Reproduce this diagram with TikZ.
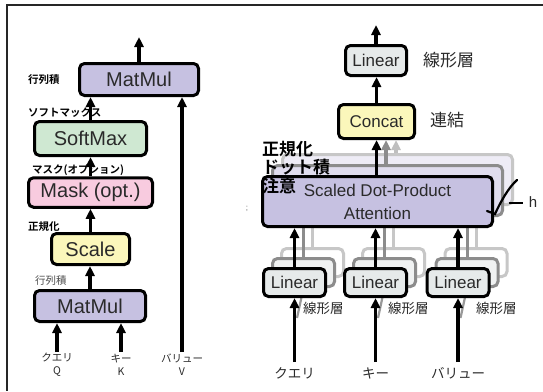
\documentclass[tikz,border=0pt]{standalone}
\usepackage{fontspec}
\setmainfont{Liberation Sans}
\newfontfamily\jp{Noto Sans CJK JP}[BoldFont={Noto Sans CJK JP Bold}]
\usetikzlibrary{arrows.meta}
\definecolor{cPurple}{HTML}{C6C1E1}
\definecolor{cGreen}{HTML}{CFE8D2}
\definecolor{cPink}{HTML}{F8CBDF}
\definecolor{cYellow}{HTML}{FBF7BB}
\definecolor{cGray}{HTML}{E6EAEA}
\definecolor{cText}{HTML}{2A2A2A}
\begin{document}
\begin{tikzpicture}[x=1pt,y=-1pt,
  box/.style={draw=black, line width=3pt, rounded corners=5pt, inner sep=0pt, text=cText},
  lbox/.style={box, font=\fontsize{20}{22}\selectfont},
  rbox/.style={box, font=\fontsize{17}{20}\selectfont},
  shadA/.style={draw=black!45, fill=#1, line width=3pt, rounded corners=5pt, inner sep=0pt},
  shadB/.style={draw=black!22, fill=#1, line width=3pt, rounded corners=5pt, inner sep=0pt},
  arr/.style={line width=3.2pt, -{Triangle[length=10pt,width=9pt]}},
  ln/.style={line width=3pt},
  jlab/.style={font=\jp\bfseries\fontsize{10.5}{12}\selectfont, inner sep=0pt, anchor=west},
  jsmall/.style={font=\jp\fontsize{10.5}{13}\selectfont, text=cText, inner sep=0pt, align=center},
  jbig/.style={font=\jp\fontsize{17}{20}\selectfont, text=cText, inner sep=0pt, anchor=west},
  jbold/.style={font=\jp\bfseries\fontsize{17}{20}\selectfont, inner sep=0pt, anchor=west},
  jmid/.style={font=\jp\fontsize{13.5}{16}\selectfont, text=cText, inner sep=0pt}
]
\useasboundingbox (0,0) rectangle (543,391);
\fill[white] (0,0) rectangle (543,391);
% frame
\draw[line width=1.5pt, black!85] (543,5) -- (7,5) -- (7,391);

% ---------------- left: scaled dot-product attention ----------------
\node[lbox, fill=cPurple, minimum width=119pt, minimum height=32pt] (mm2) at (139,79.5) {MatMul};
\node[lbox, fill=cGreen, minimum width=112pt, minimum height=34pt] (sm) at (90.5,138.5) {SoftMax};
\node[lbox, fill=cPink, minimum width=124pt, minimum height=29.5pt] (mask) at (90.5,192.5) {Mask (opt.)};
\node[lbox, fill=cYellow, minimum width=78pt, minimum height=31pt] (scale) at (90.5,249) {Scale};
\node[lbox, fill=cPurple, minimum width=111pt, minimum height=31pt] (mm1) at (90,306) {MatMul};

\coordinate (out1) at (139,37);
\coordinate (qin) at (57,352);
\coordinate (kin) at (121,352);
\coordinate (vin) at (182,352);
\draw[arr] (mm2.north) -- (out1);
\draw[arr] (sm.north) -- (sm.north |- mm2.south);
\draw[arr] (mask.north) -- (mask.north |- sm.south);
\draw[arr] (scale.north) -- (scale.north |- mask.south);
\draw[arr] (mm1.north) -- (mm1.north |- scale.south);
\draw[arr] (qin) -- (qin |- mm1.south);
\draw[arr] (kin) -- (kin |- mm1.south);
\draw[arr] (vin) -- (vin |- mm2.south);

\node[jlab] (t1) at (28,80) {行列積};
\node[jlab] (t2) at (28,113) {ソフトマックス};
\node[jlab] (t3) at (32,170) {マスク(オプション)};
\node[jlab] (t4) at (28,227) {正規化};
\node[jlab, font=\jp\fontsize{10.5}{12}\selectfont, text=black!70] (t5) at (35,281) {行列積};
\node[jsmall] (tq) at (57,365) {クエリ\\Q};
\node[jsmall] (tk) at (121,365) {キー\\K};
\node[jsmall] (tv) at (182,365) {バリュー\\V};

% ---------------- right: multi-head attention ----------------
% far shadows
\node[shadB=cPurple!30, minimum width=230pt, minimum height=50pt] (sdB) at (397.5,179.5) {};
\node[shadB=white, minimum width=62pt, minimum height=28pt] (l1B) at (312.5,262.5) {};
\node[shadB=white, minimum width=62pt, minimum height=28pt] (l2B) at (393.5,262.5) {};
\node[shadB=white, minimum width=62pt, minimum height=28pt] (l3B) at (476,262.5) {};
\draw[ln, black!22] (l1B.north) -- (l1B.north |- sdB.south);
\draw[ln, black!22] (l2B.north) -- (l2B.north |- sdB.south);
\draw[ln, black!22] (l3B.north) -- (l3B.north |- sdB.south);
% near shadows
\node[shadA=cPurple!55, minimum width=230pt, minimum height=50pt] (sdA) at (387.5,190.5) {};
\node[shadA=cGray!60, minimum width=62pt, minimum height=28pt] (l1A) at (303.5,272.5) {};
\node[shadA=cGray!60, minimum width=62pt, minimum height=28pt] (l2A) at (384.5,272.5) {};
\node[shadA=cGray!60, minimum width=62pt, minimum height=28pt] (l3A) at (467,272.5) {};
\draw[ln, black!45] (l1A.north) -- (l1A.north |- sdA.south);
\draw[ln, black!45] (l2A.north) -- (l2A.north |- sdA.south);
\draw[ln, black!45] (l3A.north) -- (l3A.north |- sdA.south);
% slanted shadow inputs
\coordinate (g1) at (297,318);
\coordinate (g2) at (378,318);
\coordinate (g3) at (460.5,318);
\draw[line width=2.2pt, black!40] (g1) -- (l1A.south);
\draw[line width=2.2pt, black!40] (g2) -- (l2A.south);
\draw[line width=2.2pt, black!40] (g3) -- (l3A.south);

% main boxes
\node[rbox, fill=cGray, minimum width=61pt, minimum height=30pt] (ltop) at (376,60.5) {Linear};
\node[rbox, fill=cYellow, minimum width=76pt, minimum height=34pt] (concat) at (376.5,121.5) {Concat};
\node[rbox, fill=cPurple, minimum width=230pt, minimum height=50pt, align=center,
      font=\fontsize{17}{23}\selectfont] (sdpa) at (377.5,201.5) {Scaled Dot-Product\\Attention};
\node[rbox, fill=cGray, minimum width=62pt, minimum height=28pt] (l1) at (294.5,282.5) {Linear};
\node[rbox, fill=cGray, minimum width=62pt, minimum height=28pt] (l2) at (375.5,282.5) {Linear};
\node[rbox, fill=cGray, minimum width=62pt, minimum height=28pt] (l3) at (458,282.5) {Linear};

% arrows
\coordinate (out2) at (376,25);
\draw[arr] (ltop.north) -- (out2);
\draw[arr] (concat.north) -- (concat.north |- ltop.south);
\draw[arr] (sdpa.north -| concat.north) -- (concat.south);
\draw[arr, black!45] (sdA.north -| 386,0) -- (386,0 |- concat.south);
\draw[arr, black!25] (sdB.north -| 396,0) -- (396,0 |- concat.south);
\draw[arr] (l1.north) -- (l1.north |- sdpa.south);
\draw[arr] (l2.north) -- (l2.north |- sdpa.south);
\draw[arr] (l3.north) -- (l3.north |- sdpa.south);

\coordinate (in1) at (294.5,362);
\coordinate (in2) at (375.5,362);
\coordinate (in3) at (458,362);
\draw[arr] (in1) -- (l1.south);
\draw[arr] (in2) -- (l2.south);
\draw[arr] (in3) -- (l3.south);

% h brace
\coordinate (hb1) at (517,180);
\coordinate (hb2) at (495,214);
\coordinate (hb3) at (487,211);
\draw[line width=2.2pt, line cap=round] (hb1) .. controls (508,188) and (500,203) .. (hb2) -- (hb3);
\coordinate (hl1) at (509,203);
\coordinate (hl2) at (523,203);
\draw[line width=1.2pt] (hl1) -- (hl2);
\node[font=\fontsize{15}{17}\selectfont, inner sep=0pt, text=cText] (hlab) at (533,202) {h};

% labels
\node[jbig] (r1) at (423,60) {線形層};
\node[jbig] (r2) at (430,120) {連結};
\node[jbold] (r3) at (262,149) {正規化};
\node[jbold] (r4) at (262,167) {ドット積};
\node[jbold] (r5) at (262,186) {注意};
\node[font=\fontsize{8}{9}\selectfont, inner sep=0pt, text=black!60] (semi) at (247,209) {;};
\node[jmid, anchor=west] (s1) at (303,308) {線形層};
\node[jmid, anchor=west] (s2) at (388,308) {線形層};
\node[jmid, anchor=west] (s3) at (476,308) {線形層};
\node[jmid] (b1) at (294.5,373) {クエリ};
\node[jmid] (b2) at (375.5,373) {キー};
\node[jmid] (b3) at (458,373) {バリュー};
\end{tikzpicture}
\end{document}
